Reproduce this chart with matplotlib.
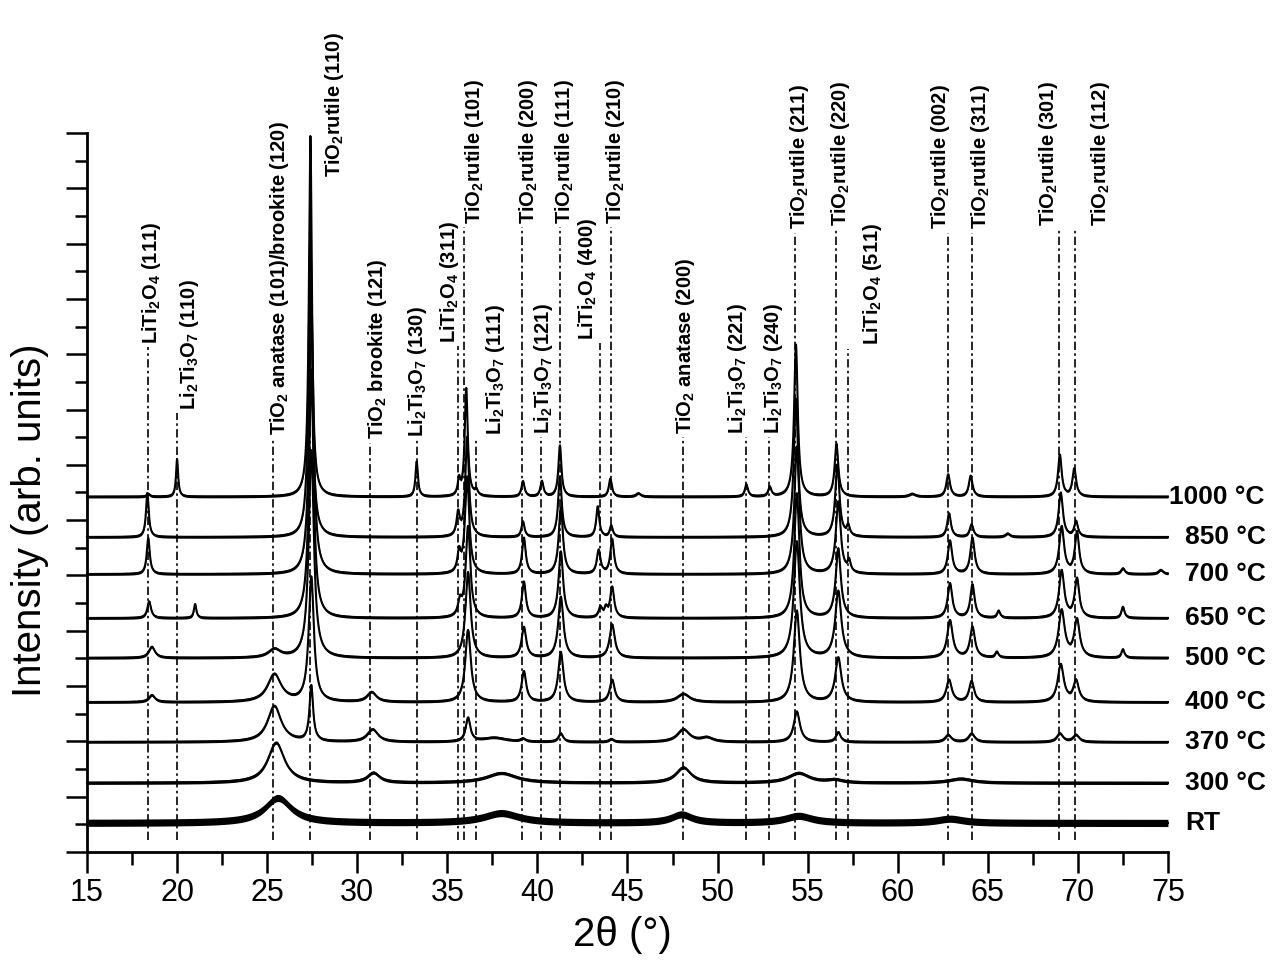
import numpy as np
import matplotlib
matplotlib.use('Agg')
import matplotlib.pyplot as plt
from matplotlib.ticker import MultipleLocator

plt.rcParams['font.family'] = ['Liberation Sans', 'DejaVu Sans']
plt.rcParams['mathtext.fontset'] = 'custom'
plt.rcParams['mathtext.rm'] = 'Liberation Sans'
plt.rcParams['mathtext.bf'] = 'Liberation Sans:bold'
plt.rcParams['mathtext.it'] = 'Liberation Sans:italic'
plt.rcParams['mathtext.default'] = 'bf'

# patterns, bottom to top: name, baseline offset, noise band half width
names = ['RT', '300 °C', '370 °C', '400 °C', '500 °C', '650 °C', '700 °C', '850 °C', '1000 °C']
offsets = [1.05, 2.5, 3.98, 5.42, 7.02, 8.46, 10.05, 11.39, 12.85]
noise = [0.13, 0.06, 0.05, 0.05, 0.05, 0.05, 0.05, 0.05, 0.05]

# peaks: (2theta, height, half width)
peaks_RT = [(25.6, 0.9, 0.9), (38.0, 0.35, 1.2), (48.0, 0.3, 0.7), (54.5, 0.25, 0.9), (62.9, 0.15, 0.9)]
peaks_300 = [(25.5, 1.45, 0.55), (30.9, 0.35, 0.4), (38.0, 0.35, 1.0), (48.1, 0.55, 0.5),
             (54.5, 0.35, 0.7), (56.5, 0.1, 0.5), (63.5, 0.15, 0.8)]
peaks_370 = [(25.4, 1.3, 0.45), (27.45, 2.0, 0.12), (30.85, 0.45, 0.35), (36.15, 0.85, 0.15),
             (37.6, 0.15, 0.8), (39.2, 0.1, 0.15), (41.3, 0.3, 0.15), (44.1, 0.1, 0.15),
             (48.1, 0.45, 0.4), (49.4, 0.15, 0.4), (54.4, 1.1, 0.2), (56.7, 0.35, 0.15),
             (62.8, 0.25, 0.2), (64.1, 0.3, 0.2), (69.0, 0.3, 0.2), (69.9, 0.25, 0.2)]
peaks_400 = [(18.6, 0.25, 0.2), (25.4, 1.0, 0.45), (27.45, 4.5, 0.17), (30.8, 0.35, 0.3),
             (36.15, 2.6, 0.18), (39.25, 1.1, 0.15), (41.3, 1.8, 0.17), (44.15, 0.8, 0.16),
             (48.1, 0.3, 0.4), (54.4, 3.3, 0.2), (56.7, 1.6, 0.2), (62.85, 0.8, 0.18),
             (64.1, 0.75, 0.16), (69.05, 1.35, 0.2), (69.9, 0.75, 0.18)]
peaks_500 = [(18.6, 0.4, 0.2), (25.4, 0.3, 0.4), (27.45, 7.5, 0.17), (36.15, 3.1, 0.17),
             (39.25, 1.1, 0.15), (41.3, 2.2, 0.17), (44.15, 1.2, 0.17), (54.4, 4.2, 0.2),
             (56.7, 2.4, 0.2), (62.9, 1.35, 0.18), (64.15, 1.1, 0.16), (65.5, 0.2, 0.1),
             (69.1, 1.7, 0.2), (69.95, 1.35, 0.18), (72.5, 0.3, 0.1)]
peaks_650 = [(18.45, 0.6, 0.12), (21.0, 0.5, 0.08), (27.45, 9.0, 0.15), (35.7, 0.5, 0.12),
             (36.15, 3.3, 0.15), (39.25, 1.3, 0.13), (41.3, 2.4, 0.15), (43.5, 0.35, 0.12),
             (43.8, 0.3, 0.1), (44.15, 1.1, 0.13), (54.4, 4.5, 0.17), (56.7, 2.5, 0.17),
             (62.9, 1.25, 0.15), (64.15, 1.2, 0.14), (65.6, 0.25, 0.1), (69.1, 1.7, 0.17),
             (69.95, 1.4, 0.15), (72.5, 0.4, 0.1)]
peaks_700 = [(18.4, 1.3, 0.1), (27.45, 10.0, 0.14), (35.65, 0.7, 0.1), (36.1, 3.5, 0.14),
             (39.25, 1.3, 0.12), (41.3, 2.4, 0.14), (43.4, 0.85, 0.12), (44.15, 1.25, 0.12),
             (54.4, 4.6, 0.16), (56.7, 2.6, 0.16), (57.3, 0.4, 0.1), (62.9, 1.2, 0.14),
             (64.15, 1.3, 0.14), (69.1, 1.7, 0.16), (69.95, 1.5, 0.14), (72.5, 0.2, 0.12),
             (74.6, 0.15, 0.15)]
peaks_850 = [(18.35, 1.6, 0.09), (27.4, 11.0, 0.12), (35.6, 0.8, 0.1), (36.1, 3.6, 0.12),
             (39.2, 0.55, 0.1), (41.25, 2.2, 0.12), (43.35, 1.1, 0.1), (44.1, 0.4, 0.1),
             (54.35, 5.0, 0.14), (56.65, 2.6, 0.14), (57.25, 0.35, 0.1), (62.85, 0.85, 0.12),
             (64.1, 0.45, 0.12), (66.1, 0.12, 0.15), (69.05, 1.6, 0.14), (69.9, 0.55, 0.12)]
peaks_1000 = [(18.4, 0.1, 0.1), (20.0, 1.36, 0.07), (27.4, 13.1, 0.1), (33.3, 1.27, 0.08),
              (35.65, 0.55, 0.08), (36.05, 3.9, 0.1), (36.6, 0.2, 0.1), (39.2, 0.55, 0.1),
              (40.25, 0.55, 0.1), (41.25, 1.85, 0.1), (44.05, 0.65, 0.1), (45.6, 0.12, 0.15),
              (51.6, 0.43, 0.1), (52.9, 0.33, 0.1), (54.35, 5.5, 0.12), (56.6, 1.9, 0.12),
              (60.8, 0.1, 0.2), (62.8, 0.8, 0.12), (64.05, 0.75, 0.12), (69.0, 1.5, 0.12),
              (69.8, 1.0, 0.12)]
all_peaks = [peaks_RT, peaks_300, peaks_370, peaks_400, peaks_500,
             peaks_650, peaks_700, peaks_850, peaks_1000]

# reference lines: line position, label position, top of line, label
ref_pos = [18.4, 20.0, 25.3, 27.4, 30.7, 33.3, 35.6, 35.95, 36.6, 39.15, 40.2, 41.25,
           43.45, 44.1, 48.1, 51.6, 52.85, 54.3, 56.6, 57.25, 62.8, 64.1, 68.95, 69.85]
ref_text_x = [18.6, 20.7, 25.7, 28.75, 31.15, 33.35, 35.1, 36.5, 37.7, 39.5, 40.35, 41.5,
              42.8, 44.35, 48.2, 51.1, 53.1, 54.55, 56.8, 58.6, 62.35, 64.6, 68.35, 71.25]
ref_top = [18.26, 15.88, 14.97, 24.3, 14.8, 14.9, 18.3, 22.6, 14.97, 22.6, 15.0, 22.6,
           18.4, 22.6, 15.0, 15.0, 15.0, 22.4, 22.5, 18.2, 22.4, 22.4, 22.5, 22.5]
ref_labels = [r'LiTi$_2$O$_4$ (111)', r'Li$_2$Ti$_3$O$_7$ (110)',
              r'TiO$_2$ anatase (101)/brookite (120)', r'TiO$_2$rutile (110)',
              r'TiO$_2$ brookite (121)', r'Li$_2$Ti$_3$O$_7$ (130)', r'LiTi$_2$O$_4$ (311)',
              r'TiO$_2$rutile (101)', r'Li$_2$Ti$_3$O$_7$ (111)', r'TiO$_2$rutile (200)',
              r'Li$_2$Ti$_3$O$_7$ (121)', r'TiO$_2$rutile (111)', r'LiTi$_2$O$_4$ (400)',
              r'TiO$_2$rutile (210)', r'TiO$_2$ anatase (200)', r'Li$_2$Ti$_3$O$_7$ (221)',
              r'Li$_2$Ti$_3$O$_7$ (240)', r'TiO$_2$rutile (211)', r'TiO$_2$rutile (220)',
              r'LiTi$_2$O$_4$ (511)', r'TiO$_2$rutile (002)', r'TiO$_2$rutile (311)',
              r'TiO$_2$rutile (301)', r'TiO$_2$rutile (112)']
name_x = [75.95, 75.95, 75.95, 75.95, 75.95, 75.95, 75.95, 75.95, 75.05]


def profile(x, peaks):
    y = np.zeros_like(x)
    for c, h, w in peaks:
        y += h / (1 + ((x - c) / w) ** 2)
    return y


fig = plt.figure(figsize=(12.72, 9.67), dpi=100)
ax = fig.add_axes([0.0684, 0.1189, 0.8498, 0.7436])

ax.vlines(ref_pos, 0.43, ref_top, colors='k', linewidth=1.2,
          linestyles=(0, (5, 2, 1.5, 2)))
for tx, top, lab in zip(ref_text_x, ref_top, ref_labels):
    ax.text(tx, top + 0.12, lab, rotation=90, ha='center', va='bottom',
            fontsize=14.5, fontweight='bold')

x = np.linspace(15, 75, 4000)
for name, base, peaks, nz, nx in zip(names, offsets, all_peaks, noise, name_x):
    y = base + profile(x, peaks)
    ax.plot(x, y, color='k', lw=1.5, clip_on=False)
    ax.fill_between(x, y - nz, y + nz, color='k', lw=0)
    ax.text(nx, base, name, ha='left', va='center', fontsize=19, fontweight='bold')

ax.set_xlim(15, 75)
ax.set_ylim(0, 26)
ax.xaxis.set_major_locator(MultipleLocator(5))
ax.xaxis.set_minor_locator(MultipleLocator(2.5))
ax.yaxis.set_major_locator(MultipleLocator(2))
ax.yaxis.set_minor_locator(MultipleLocator(1))
ax.tick_params(which='major', length=15, width=1.8, direction='out', labelsize=22)
ax.tick_params(which='minor', length=9, width=1.8, direction='out')
ax.tick_params(axis='y', labelleft=False)
for s in ['top', 'right']:
    ax.spines[s].set_visible(False)
for s in ['left', 'bottom']:
    ax.spines[s].set_linewidth(2)

fig.text(622 / 1272, 1 - 935 / 967, '2θ (°)', ha='center', va='center', fontsize=29)
fig.text(30 / 1272, 1 - 520 / 967, 'Intensity (arb. units)', ha='center', va='center',
         rotation=90, fontsize=29)

fig.savefig('out.png', dpi=100)
